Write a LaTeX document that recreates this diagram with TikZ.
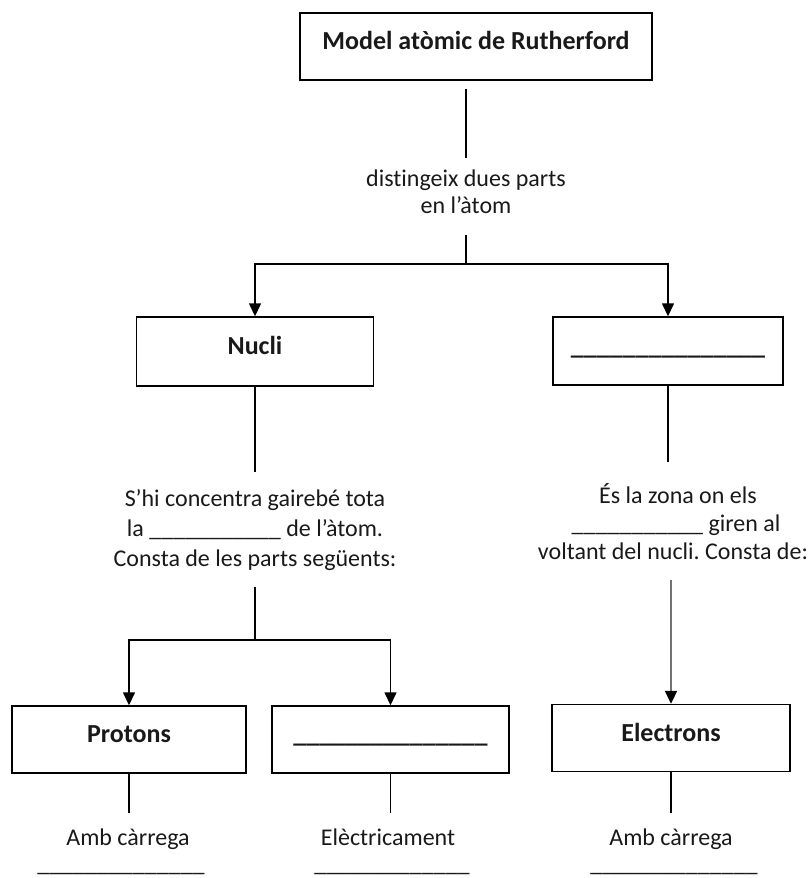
\documentclass[tikz,border=0pt]{standalone}
\usepackage{fontspec}
\setmainfont{Carlito}[Ligatures={NoCommon}]
\usetikzlibrary{arrows.meta}
\frenchspacing
\begin{document}
\begin{tikzpicture}[x=1pt,y=-1pt,
  box/.style={draw, rectangle, line width=1.4pt, inner sep=0pt,
    text height=12pt, text depth=6pt, text=black!90,
    font=\fontsize{26}{30}\selectfont\bfseries},
  txt/.style={inner sep=0pt, anchor=base, text height=18pt, text depth=6pt,
    text=black!90, font=\fontsize{24}{30}\selectfont},
  link/.style={line width=1.4pt},
  arr/.style={link, -{Triangle[width=12pt,length=13pt]}},
  greyarr/.style={line width=2pt, draw=black!55, -{Triangle[width=12pt,length=13pt,color=black]}}
]
\useasboundingbox (0,0) rectangle (808,878);

% title
\node[box, minimum width=352pt, minimum height=67pt] (title) at (476,46.5) {Model atòmic de Rutherford};
\node[txt] (d1) at (466,186) {distingeix dues parts};
\node[txt] (d2) at (466,213) {en l’àtom};
\coordinate (split1) at (466,264);

% second level
\node[box, minimum width=237pt, minimum height=69pt] (nucli) at (255,351.5) {Nucli};
\node[box, minimum width=230pt, minimum height=68pt] (rbox) at (668,351) {\_\_\_\_\_\_\_\_\_\_\_\_\_\_\_};

% text under Nucli
\node[txt] (n1) at (255,506) {S’hi concentra gairebé tota};
\node[txt] (n2) at (255,536) {la \_\_\_\_\_\_\_\_\_\_\_ de l’àtom.};
\node[txt] (n3) at (255,566) {Consta de les parts següents:};
\coordinate (split2) at (255,640);

% text under the right box
\node[txt] (z1) at (678,503) {És la zona on els};
\node[txt] (z2) at (676,531) {\_\_\_\_\_\_\_\_\_\_\_ giren al};
\node[txt] (z3) at (673,559) {voltant del nucli. Consta de:};

% third level
\node[box, minimum width=234pt, minimum height=67pt] (protons) at (129,739.5) {Protons};
\node[box, minimum width=237pt, minimum height=67pt] (mid) at (390.5,739.5) {\_\_\_\_\_\_\_\_\_\_\_\_\_\_\_};
\node[box, minimum width=238pt, minimum height=67pt] (electrons) at (671,738) {Electrons};

% bottom texts
\node[txt] (a1) at (128,845) {Amb càrrega};
\node[txt] (a2) at (388,845) {Elèctricament};
\node[txt] (a3) at (671,845) {Amb càrrega};
\node[txt] (u1) at (121,871) {\_\_\_\_\_\_\_\_\_\_\_\_\_\_};
\node[txt] (u2) at (392,871) {\_\_\_\_\_\_\_\_\_\_\_\_\_};
\node[txt] (u3) at (674,871) {\_\_\_\_\_\_\_\_\_\_\_\_\_\_};

% connectors
\draw[link, shorten <=8pt, shorten >=10pt] (title.south -| d1) -- (d1.north);
\draw[link, shorten <=16pt] (d2.south) -- (split1);
\draw[arr] (split1) -| (nucli.north);
\draw[arr] (split1) -| (rbox.north);

\draw[link, shorten >=16pt] (nucli.south) -- (nucli.south |- n1.north);
\draw[link, shorten <=15pt] (n3.south) -- (split2);
\draw[arr] (split2) -| (protons.north);
\draw[arr] (split2) -| (mid.north);

\draw[link, shorten >=23pt] (rbox.south) -- (rbox.south |- z1.north);
\draw[greyarr, shorten <=15pt] (electrons.north |- z3.south) -- (electrons.north);

\draw[link, shorten >=14pt] (protons.south) -- (protons.south |- a1.north);
\draw[link, shorten >=14pt] (mid.south) -- (mid.south |- a2.north);
\draw[link, shorten >=14pt] (electrons.south) -- (electrons.south |- a3.north);
\end{tikzpicture}
\end{document}
